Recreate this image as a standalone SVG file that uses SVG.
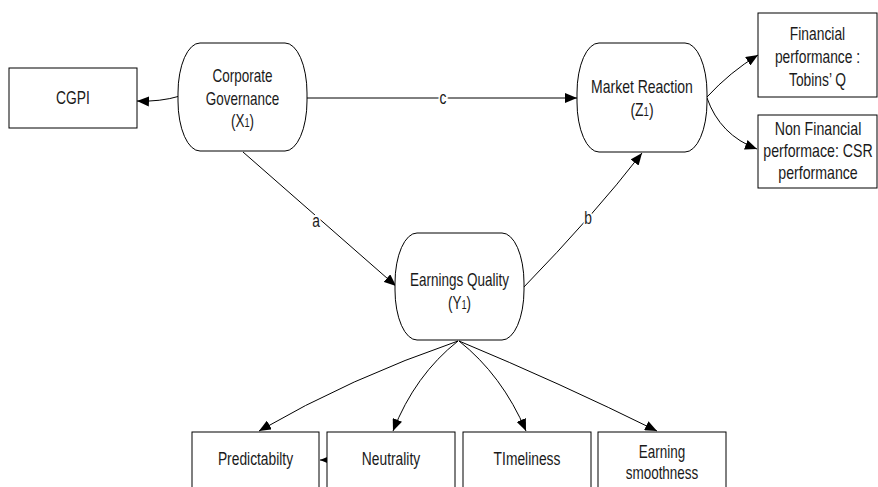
<svg xmlns="http://www.w3.org/2000/svg" width="878" height="487" viewBox="0 0 878 487">
<style>
.box{fill:#fff;stroke:#000;stroke-width:1}
.node{fill:#fff;stroke:#000;stroke-width:1}
.t{font-family:"Liberation Sans",Arial,sans-serif;font-size:17.5px;fill:#1a1a1a;text-anchor:middle}
.sub{font-size:12px}
.edge{fill:none;stroke:#000;stroke-width:1;marker-end:url(#ah)}
.lbl{font-family:"Liberation Sans",Arial,sans-serif;font-size:17.5px;fill:#1a1a1a;text-anchor:middle;stroke:#fff;stroke-width:4;paint-order:stroke}
</style>
<defs>
<marker id="ah" markerUnits="userSpaceOnUse" markerWidth="12" markerHeight="10" refX="12" refY="5" orient="auto">
<path d="M0,0 L12,5 L0,10 z" fill="#000"/>
</marker>
</defs>
<rect width="878" height="487" fill="#fff"/>
<g id="connectors">
<path class="edge" d="M180,96 Q160,102 137,101"/>
<path class="edge" d="M307,98 L577,98"/>
<path class="edge" d="M243,152 L396,286"/>
<path class="edge" d="M523,288 Q593.5,215.5 642,153"/>
<path class="edge" d="M707,97 Q730,72 758,55"/>
<path class="edge" d="M707,98 Q720,135 757,149"/>
<path class="edge" d="M458,341 Q350,378 259,431"/>
<path class="edge" d="M458,341 Q415,375 393,431"/>
<path class="edge" d="M459,341 Q502,375 526,431"/>
<path class="edge" d="M459,341 Q560,383 657,431"/>
<path class="edge" d="M327,460 L320,460"/>
<text class="lbl" transform="translate(443,104) scale(0.79,1)">c</text>
<text class="lbl" transform="translate(316,227) scale(0.79,1)">a</text>
<text class="lbl" transform="translate(588,224) scale(0.79,1)">b</text>
</g>
<g id="cgpi">
<rect class="box" x="9" y="68" width="128" height="60"/>
<text class="t" transform="translate(73,104) scale(0.79,1)">CGPI</text>
</g>
<g id="corporate-governance">
<rect class="node" x="178" y="43" width="129" height="108" rx="22" ry="50"/>
<g transform="translate(242.5,0) scale(0.77,1)">
<text class="t" x="0" y="82">Corporate</text>
<text class="t" x="0" y="105">Governance</text>
<text class="t" x="0" y="127">(X<tspan class="sub">1</tspan>)</text>
</g>
</g>
<g id="market-reaction">
<rect class="node" x="577" y="43" width="130" height="109" rx="22" ry="50"/>
<g transform="translate(642,0) scale(0.8,1)">
<text class="t" x="0" y="93">Market Reaction</text>
<text class="t" x="0" y="116">(Z<tspan class="sub">1</tspan>)</text>
</g>
</g>
<g id="earnings-quality">
<rect class="node" x="395" y="233" width="129" height="107" rx="22" ry="50"/>
<g transform="translate(459.5,0) scale(0.77,1)">
<text class="t" x="0" y="286">Earnings Quality</text>
<text class="t" x="0" y="309">(Y<tspan class="sub">1</tspan>)</text>
</g>
</g>
<g id="financial-performance">
<rect class="box" x="758" y="13" width="119" height="84"/>
<g transform="translate(817.5,0) scale(0.79,1)">
<text class="t" x="0" y="40">Financial</text>
<text class="t" x="0" y="63">performance :</text>
<text class="t" x="0" y="86">Tobins’ Q</text>
</g>
</g>
<g id="non-financial-performance">
<rect class="box" x="758" y="115" width="119" height="73"/>
<g transform="translate(818,0) scale(0.81,1)">
<text class="t" x="0" y="135">Non Financial</text>
<text class="t" x="0" y="157">performace: CSR</text>
<text class="t" x="0" y="179">performance</text>
</g>
</g>
<g id="predictability">
<rect class="box" x="192" y="432" width="127" height="70"/>
<text class="t" transform="translate(255.5,465) scale(0.79,1)">Predictabilty</text>
</g>
<g id="neutrality">
<rect class="box" x="327" y="432" width="128" height="70"/>
<text class="t" transform="translate(391,465) scale(0.79,1)">Neutrality</text>
</g>
<g id="timeliness">
<rect class="box" x="463" y="432" width="128" height="70"/>
<text class="t" transform="translate(527,465) scale(0.79,1)">TImeliness</text>
</g>
<g id="earning-smoothness">
<rect class="box" x="598" y="432" width="128" height="70"/>
<g transform="translate(662,0) scale(0.77,1)">
<text class="t" x="0" y="458">Earning</text>
<text class="t" x="0" y="479">smoothness</text>
</g>
</g>
</svg>
